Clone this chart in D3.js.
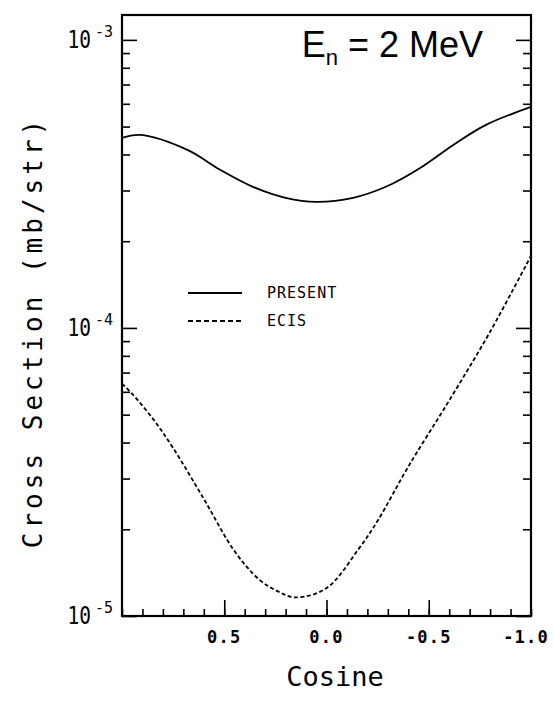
<!DOCTYPE html>
<html>
<head>
<meta charset="utf-8">
<script src="https://cdn.jsdelivr.net/npm/d3@7"></script>
<style>
  body { margin: 0; background: #fff; }
  svg { display: block; }
  .mono { font-family: "DejaVu Sans Mono", "Liberation Mono", monospace; fill: #000; }
</style>
</head>
<body>
<script>
// PRESENT curve (solid)
var presentCos = [1.0, 0.91, 0.68, 0.52, 0.36, 0.2, 0.05, -0.13, -0.29, -0.46, -0.62, -0.78, -1.0];
var presentXs  = [4.57e-4, 4.68e-4, 4.15e-4, 3.54e-4, 3.09e-4, 2.83e-4, 2.74e-4, 2.83e-4, 3.09e-4, 3.6e-4, 4.32e-4, 5.07e-4, 5.85e-4];

// ECIS curve (dashed)
var ecisCos = [1.0, 0.95, 0.85, 0.75, 0.6, 0.45, 0.33, 0.24, 0.15, 0.0, -0.16, -0.25, -0.4, -0.6, -0.8, -1.0];
var ecisXs  = [6.4e-5, 5.9e-5, 4.85e-5, 3.83e-5, 2.55e-5, 1.68e-5, 1.34e-5, 1.22e-5, 1.16e-5, 1.25e-5, 1.72e-5, 2.14e-5, 3.3e-5, 5.6e-5, 9.7e-5, 1.78e-4];

var cosTicks = [0.5, 0.0, -0.5, -1.0];
var cosTickLabels = ["0.5", "0.0", "-0.5", "-1.0"];
var decades = [1e-5, 1e-4, 1e-3];
var decadeExps = ["-5", "-4", "-3"];
var legendNames = ["PRESENT", "ECIS"];

var W = 554, H = 701;
// plot box (don't call it "top", that's window.top)
var pL = 122, pR = 531, pT = 15, pB = 616;

var svg = d3.select("body").append("svg")
    .attr("width", W)
    .attr("height", H);

var x = d3.scaleLinear().domain([1, -1]).range([pL, pR]);
var y = d3.scaleLog().domain([1e-5, 1.22e-3]).range([pB, pT]);

// minor tick values
var minorY = [];
decades.forEach(function(d) {
    for (var k = 2; k <= 9; k++) if (d * k < 1.22e-3) minorY.push(d * k);
});
var minorX = d3.range(-10, 11).map(function(i) { return i / 10; });

function strip(g) {
    g.select(".domain").remove();
    g.selectAll("text").remove();
    g.selectAll("line").attr("stroke", "#000").attr("stroke-width", 1.6);
}

// left axis ticks (inward)
svg.append("g").attr("transform", "translate(" + pL + ",0)")
    .call(d3.axisLeft(y).tickValues(decades).tickSize(-15)).call(strip);
svg.append("g").attr("transform", "translate(" + pL + ",0)")
    .call(d3.axisLeft(y).tickValues(minorY).tickSize(-8)).call(strip);
// right axis ticks (inward)
svg.append("g").attr("transform", "translate(" + pR + ",0)")
    .call(d3.axisRight(y).tickValues(decades).tickSize(-15)).call(strip);
svg.append("g").attr("transform", "translate(" + pR + ",0)")
    .call(d3.axisRight(y).tickValues(minorY).tickSize(-8)).call(strip);
// bottom ticks
svg.append("g").attr("transform", "translate(0," + pB + ")")
    .call(d3.axisBottom(x).tickValues([0.5, 0, -0.5]).tickSize(-16)).call(strip);
svg.append("g").attr("transform", "translate(0," + pB + ")")
    .call(d3.axisBottom(x).tickValues(minorX).tickSize(-7)).call(strip);

// frame
svg.append("rect")
    .attr("x", pL).attr("y", pT)
    .attr("width", pR - pL).attr("height", pB - pT)
    .attr("fill", "none").attr("stroke", "#000").attr("stroke-width", 2.2);

// y tick labels 10^n
decades.forEach(function(d, i) {
    svg.append("text").attr("class", "mono")
        .attr("x", 91).attr("y", y(d) + 8)
        .attr("text-anchor", "end")
        .attr("font-size", 25)
        .attr("transform", "translate(91,0) scale(0.78,1) translate(-91,0)")
        .text("10");
    svg.append("text").attr("class", "mono")
        .attr("x", 95).attr("y", y(d) - 3)
        .attr("font-size", 15)
        .text(decadeExps[i]);
});

// x tick labels (last one nudged in so it stays on the page)
svg.selectAll(".xlab").data(cosTicks).enter().append("text")
    .attr("class", "mono")
    .attr("x", function(d) { return x(d) - (d === -1 ? 5 : 0); })
    .attr("y", 643)
    .attr("text-anchor", "middle")
    .attr("font-size", 17)
    .attr("font-weight", "bold")
    .attr("letter-spacing", 1.2)
    .text(function(d, i) { return cosTickLabels[i]; });

// axis titles
svg.append("text").attr("class", "mono")
    .attr("x", 335).attr("y", 686)
    .attr("text-anchor", "middle")
    .attr("font-size", 27)
    .text("Cosine");

svg.append("text").attr("class", "mono")
    .attr("transform", "translate(42,332) rotate(-90)")
    .attr("text-anchor", "middle")
    .attr("font-size", 26)
    .attr("letter-spacing", 4)
    .text("Cross Section (mb/str)");

// curves
var line = d3.line()
    .x(function(d) { return x(d[0]); })
    .y(function(d) { return y(d[1]); })
    .curve(d3.curveCatmullRom.alpha(0.5));

svg.append("path")
    .datum(d3.zip(presentCos, presentXs))
    .attr("d", line)
    .attr("fill", "none").attr("stroke", "#000").attr("stroke-width", 1.8);

svg.append("path")
    .datum(d3.zip(ecisCos, ecisXs))
    .attr("d", line)
    .attr("fill", "none").attr("stroke", "#000").attr("stroke-width", 1.8)
    .attr("stroke-dasharray", "4,2.5");

// legend
legendNames.forEach(function(name, i) {
    var ly = 293 + i * 28;
    svg.append("line")
        .attr("x1", 188).attr("x2", 242).attr("y1", ly).attr("y2", ly)
        .attr("stroke", "#000").attr("stroke-width", 1.8)
        .attr("stroke-dasharray", i ? "5,3" : null);
    svg.append("text").attr("class", "mono")
        .attr("x", 267).attr("y", ly + 5)
        .attr("font-size", 15)
        .attr("letter-spacing", 1)
        .text(name);
});

// energy label
var title = svg.append("text")
    .attr("x", 483).attr("y", 57)
    .attr("text-anchor", "end")
    .attr("font-family", "Liberation Sans, Arial, sans-serif")
    .attr("font-size", 36);
title.append("tspan").text("E");
title.append("tspan").attr("font-size", 22).attr("dy", 8).text("n");
title.append("tspan").attr("dy", -8).text(" = 2 MeV");
</script>
</body>
</html>
